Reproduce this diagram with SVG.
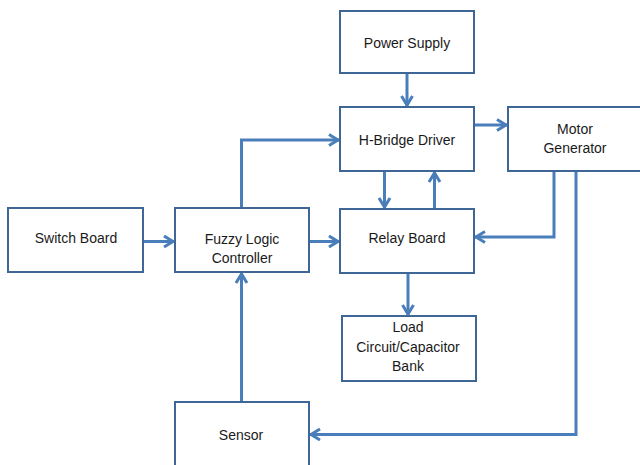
<svg xmlns="http://www.w3.org/2000/svg" width="640" height="465" viewBox="0 0 640 465">
  <style>
    .box { fill: #ffffff; stroke: #3E6797; stroke-width: 2; }
    .lbl { font-family: "Liberation Sans", Arial, sans-serif; font-size: 14px; fill: #1a1a1a; text-anchor: middle; }
    .wire { fill: none; stroke: #4A7EBB; stroke-width: 3; }
  </style>
  <defs>
    <marker id="arrow" viewBox="0 0 14 14" markerWidth="14" markerHeight="14" markerUnits="userSpaceOnUse" refX="12" refY="7" orient="auto">
      <path d="M2,1.5 L11,7 L2,12.5" fill="none" stroke="#4A7EBB" stroke-width="3" stroke-linejoin="miter"/>
    </marker>
  </defs>
  <rect width="640" height="465" fill="#ffffff"/>

  <g id="connectors">
    <!-- Power Supply to H-Bridge -->
    <path class="wire" d="M407,74 V106" marker-end="url(#arrow)"/>
    <!-- H-Bridge to Motor Generator -->
    <path class="wire" d="M474,125 H507" marker-end="url(#arrow)"/>
    <!-- H-Bridge down to Relay Board -->
    <path class="wire" d="M384.5,171 V208" marker-end="url(#arrow)"/>
    <!-- Relay Board up to H-Bridge -->
    <path class="wire" d="M434.5,209 V172" marker-end="url(#arrow)"/>
    <!-- Motor Generator back to Relay Board -->
    <path class="wire" d="M554,171 V237 H475" marker-end="url(#arrow)"/>
    <!-- Motor Generator to Sensor -->
    <path class="wire" d="M576,171 V434.5 H310" marker-end="url(#arrow)"/>
    <!-- Switch Board to Fuzzy Logic Controller -->
    <path class="wire" d="M143,241.5 H174" marker-end="url(#arrow)"/>
    <!-- Fuzzy Logic Controller to Relay Board -->
    <path class="wire" d="M309,241.5 H339" marker-end="url(#arrow)"/>
    <!-- Fuzzy Logic Controller to H-Bridge -->
    <path class="wire" d="M241.5,208 V140 H339" marker-end="url(#arrow)"/>
    <!-- Sensor to Fuzzy Logic Controller -->
    <path class="wire" d="M241.5,402 V273" marker-end="url(#arrow)"/>
    <!-- Relay Board to Load -->
    <path class="wire" d="M408,273 V315" marker-end="url(#arrow)"/>
  </g>

  <g id="power-supply">
    <rect class="box" x="340" y="11" width="134" height="62"/>
    <text class="lbl" x="407" y="48">Power Supply</text>
  </g>
  <g id="h-bridge-driver">
    <rect class="box" x="340" y="107" width="134" height="64"/>
    <text class="lbl" x="407" y="145">H-Bridge Driver</text>
  </g>
  <g id="motor-generator">
    <rect class="box" x="508" y="107" width="135" height="64"/>
    <text class="lbl" x="575" y="134">Motor</text>
    <text class="lbl" x="575" y="153">Generator</text>
  </g>
  <g id="switch-board">
    <rect class="box" x="8" y="208" width="135" height="64"/>
    <text class="lbl" x="76" y="243">Switch Board</text>
  </g>
  <g id="fuzzy-logic-controller">
    <rect class="box" x="175" y="208" width="134" height="64"/>
    <text class="lbl" x="242" y="243.5">Fuzzy Logic</text>
    <text class="lbl" x="242" y="262.5">Controller</text>
  </g>
  <g id="relay-board">
    <rect class="box" x="340" y="209" width="134" height="64"/>
    <text class="lbl" x="407" y="243">Relay Board</text>
  </g>
  <g id="load-bank">
    <rect class="box" x="342" y="316" width="134" height="65"/>
    <text class="lbl" x="408" y="332">Load</text>
    <text class="lbl" x="408" y="351.5">Circuit/Capacitor</text>
    <text class="lbl" x="408" y="370.5">Bank</text>
  </g>
  <g id="sensor">
    <rect class="box" x="175" y="402" width="134" height="66"/>
    <text class="lbl" x="241" y="440">Sensor</text>
  </g>
</svg>
